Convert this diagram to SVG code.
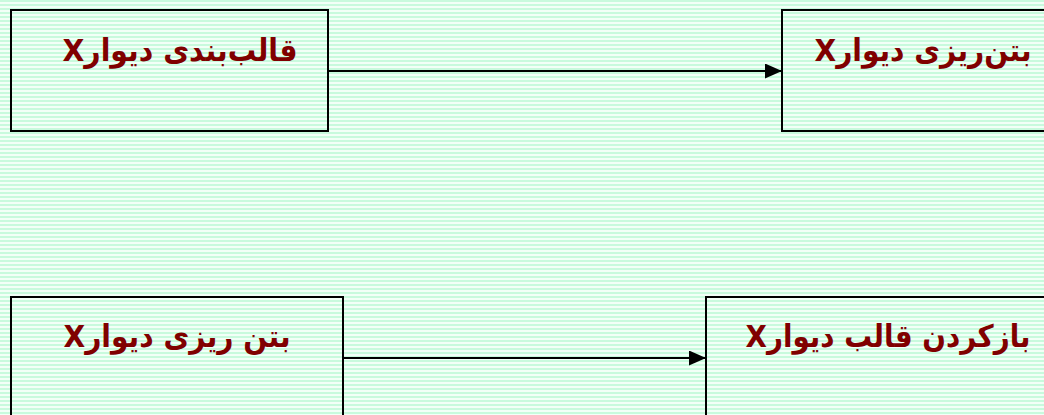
<svg xmlns="http://www.w3.org/2000/svg" width="1044" height="415" viewBox="0 0 1044 415">
<defs>
<pattern id="stripes" width="8" height="4" patternUnits="userSpaceOnUse">
<rect width="8" height="4" fill="#f2fff7"/>
<rect y="0" width="8" height="2" fill="#c8fadd"/>
</pattern>
<marker id="arrow" markerWidth="17" markerHeight="15" refX="17" refY="7.5" orient="auto" markerUnits="userSpaceOnUse">
<path d="M0,0 L17,7.5 L0,15 Z" fill="#000"/>
</marker>
<style>
.box{fill:none;stroke:#000;stroke-width:2}
.lbl{font-family:"DejaVu Sans","Noto Sans",sans-serif;font-weight:bold;font-size:31px;fill:#800000;text-anchor:middle}
.conn{stroke:#000;stroke-width:2;fill:none}
</style>
</defs>
<rect width="1044" height="415" fill="url(#stripes)"/>
<g id="connectors">
<line class="conn" x1="329" y1="71" x2="782" y2="71" marker-end="url(#arrow)"/>
<line class="conn" x1="344" y1="358" x2="706" y2="358" marker-end="url(#arrow)"/>
</g>
<g id="node1">
<rect class="box" x="11" y="10" width="317" height="121"/>
<text class="lbl" x="180" y="61" direction="rtl" textLength="235" lengthAdjust="spacingAndGlyphs">قالب‌بندی دیوارX</text>
</g>
<g id="node2">
<rect class="box" x="782" y="10" width="300" height="121"/>
<text class="lbl" x="923" y="61" direction="rtl" textLength="217" lengthAdjust="spacingAndGlyphs">بتن‌ریزی دیوارX</text>
</g>
<g id="node3">
<rect class="box" x="11" y="297" width="332" height="140"/>
<text class="lbl" x="177" y="347" direction="rtl" textLength="227" lengthAdjust="spacingAndGlyphs">بتن ریزی دیوارX</text>
</g>
<g id="node4">
<rect class="box" x="706" y="297" width="380" height="140"/>
<text class="lbl" x="888" y="347" direction="rtl" textLength="285" lengthAdjust="spacingAndGlyphs">بازکردن قالب دیوارX</text>
</g>
</svg>
